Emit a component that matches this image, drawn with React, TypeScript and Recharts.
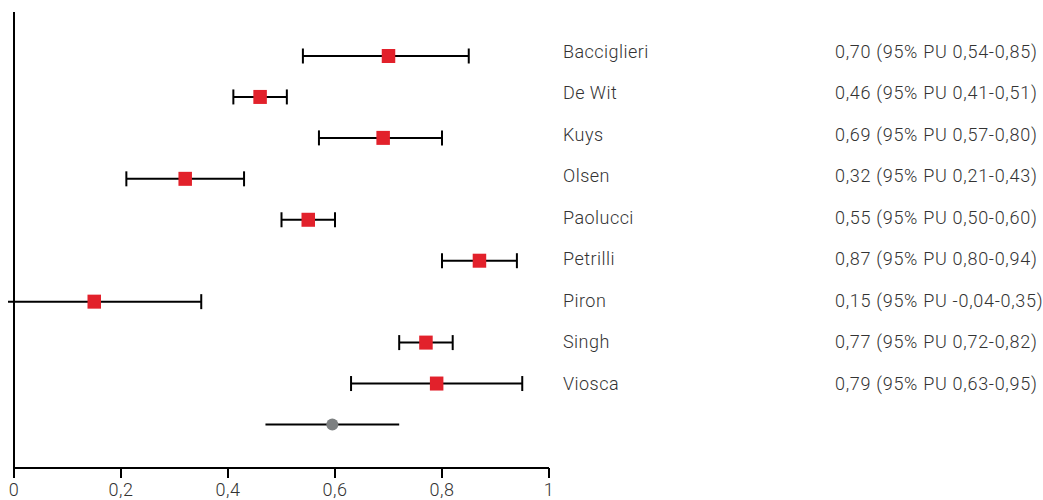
import React from 'react';
import { ScatterChart, Scatter, XAxis, YAxis, ErrorBar } from 'recharts';

const studies = ['Bacciglieri', 'De Wit', 'Kuys', 'Olsen', 'Paolucci', 'Petrilli', 'Piron', 'Singh', 'Viosca'];
const estimates = [0.70, 0.46, 0.69, 0.32, 0.55, 0.87, 0.15, 0.77, 0.79];
const lowers = [0.54, 0.41, 0.57, 0.21, 0.50, 0.80, -0.04, 0.72, 0.63];
const uppers = [0.85, 0.51, 0.80, 0.43, 0.60, 0.94, 0.35, 0.82, 0.95];
const labels = [
  '0,70 (95% PU 0,54-0,85)',
  '0,46 (95% PU 0,41-0,51)',
  '0,69 (95% PU 0,57-0,80)',
  '0,32 (95% PU 0,21-0,43)',
  '0,55 (95% PU 0,50-0,60)',
  '0,87 (95% PU 0,80-0,94)',
  '0,15 (95% PU -0,04-0,35)',
  '0,77 (95% PU 0,72-0,82)',
  '0,79 (95% PU 0,63-0,95)',
];
const summaryEstimate = 0.595;
const summaryLower = 0.47;
const summaryUpper = 0.72;
const xTicks = [0, 0.2, 0.4, 0.6, 0.8, 1];
const labelRows = [0, 1, 2, 3, 4, 5, 6, 7, 8];

const studyData = studies.map((name, i) => ({
  name,
  x: estimates[i],
  y: i,
  err: [estimates[i] - lowers[i], uppers[i] - estimates[i]],
}));
const summaryData = [
  { x: summaryEstimate, y: studies.length, err: [summaryEstimate - summaryLower, summaryUpper - summaryEstimate] },
];
const labelData = labelRows.map((i) => ({ x: 0.5, y: i }));

const FONT = 'Roboto, "Noto Sans", sans-serif';

const RightTick = (props: any) => {
  const { x, y, payload } = props;
  const i = payload.value;
  if (i < 0 || i >= studies.length) return null;
  return (
    <g>
      <text x={x + 14} y={y + 6.5} fontFamily={FONT} fontWeight={300} fontSize={18} letterSpacing={0.45} fill="#333">
        {studies[i]}
      </text>
      <text x={x + 286} y={y + 6.5} fontFamily={FONT} fontWeight={300} fontSize={18} letterSpacing={0.7} fill="#333">
        {labels[i]}
      </text>
    </g>
  );
};

const Square = (props: any) => {
  const { cx, cy } = props;
  return <rect x={cx - 6.75} y={cy - 7} width={13.5} height={14} fill="#e2212b" />;
};
const Dot = (props: any) => {
  const { cx, cy } = props;
  return <circle cx={cx} cy={cy} r={6} fill="#7d8081" />;
};
const Nothing = () => <g />;

const markerDomain: [number, number] = [-1.0747, 10.063];
const labelDomain: [number, number] = [-0.953, 10.051];

export default function App() {
  return (
    <div style={{ position: 'absolute', left: 8, top: 8, width: 1035, height: 492 }}>
      <ScatterChart width={1035} height={492} margin={{ top: 4, right: 0, bottom: 0, left: 5 }}>
        <XAxis
          type="number"
          dataKey="x"
          domain={[0, 1]}
          allowDataOverflow
          ticks={xTicks}
          height={32}
          tickSize={10}
          tickMargin={5}
          axisLine={{ stroke: '#000', strokeWidth: 2 }}
          tickLine={{ stroke: '#000', strokeWidth: 2 }}
          tick={{ fontFamily: FONT, fontWeight: 300, fontSize: 18, letterSpacing: 0.5, fill: '#333' }}
          tickFormatter={(v: number) => String(v).replace('.', ',')}
        />
        <YAxis
          yAxisId="left"
          type="number"
          dataKey="y"
          domain={markerDomain}
          allowDataOverflow
          reversed
          width={1}
          tick={false}
          tickLine={false}
          axisLine={{ stroke: '#000', strokeWidth: 2 }}
        />
        <YAxis
          yAxisId="right"
          orientation="right"
          type="number"
          dataKey="y"
          domain={labelDomain}
          allowDataOverflow
          reversed
          width={494}
          ticks={labelRows}
          interval={0}
          tickSize={0}
          tickMargin={0}
          tickLine={false}
          axisLine={false}
          tick={<RightTick />}
        />
        <Scatter yAxisId="right" data={labelData} shape={<Nothing />} isAnimationActive={false} />
        <Scatter yAxisId="left" data={studyData} shape={<Square />} isAnimationActive={false}>
          <ErrorBar dataKey="err" direction="x" width={7.5} stroke="#000" strokeWidth={2} isAnimationActive={false} />
        </Scatter>
        <Scatter yAxisId="left" data={summaryData} shape={<Dot />} isAnimationActive={false}>
          <ErrorBar dataKey="err" direction="x" width={0} stroke="#000" strokeWidth={2} isAnimationActive={false} />
        </Scatter>
      </ScatterChart>
    </div>
  );
}
